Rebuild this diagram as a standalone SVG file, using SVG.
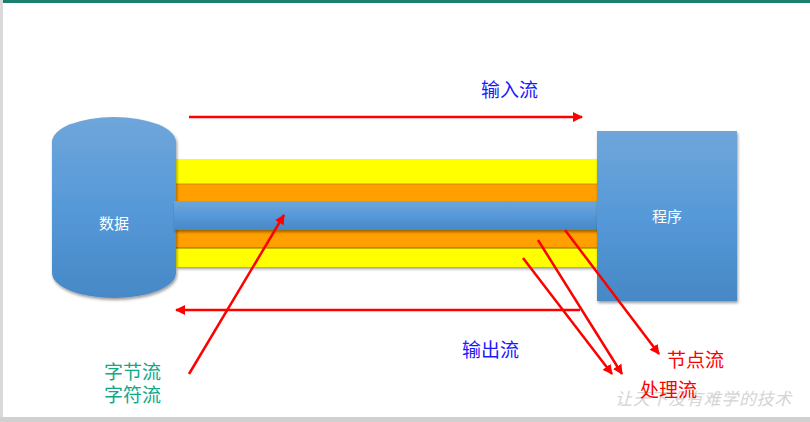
<svg xmlns="http://www.w3.org/2000/svg" width="810" height="422" viewBox="0 0 810 422">
<defs>
<linearGradient id="blue" x1="0" y1="0" x2="0" y2="1">
<stop offset="0" stop-color="#6fa6da"/>
<stop offset="0.5" stop-color="#5699d8"/>
<stop offset="1" stop-color="#4788c6"/>
</linearGradient>
<filter id="sh" x="-10%" y="-10%" width="125%" height="125%">
<feGaussianBlur in="SourceAlpha" stdDeviation="1.5"/>
<feOffset dx="1" dy="2" result="b"/>
<feComponentTransfer><feFuncA type="linear" slope="0.4"/></feComponentTransfer>
<feMerge><feMergeNode/><feMergeNode in="SourceGraphic"/></feMerge>
</filter>
<marker id="ah" viewBox="0 0 10 10" refX="9" refY="5" markerWidth="4" markerHeight="4" orient="auto" markerUnits="strokeWidth">
<path d="M0,0 L10,5 L0,10 Z" fill="#ff0000"/>
</marker>
</defs>
<style>
.cn{font-family:"Noto Sans CJK SC","Noto Sans",sans-serif;}
.lbl{font-size:15px;fill:#ffffff;text-anchor:middle;}
.big{font-size:19px;}
.arr{stroke:#ff0000;stroke-width:2.5;fill:none;marker-end:url(#ah);}
</style>
<rect x="0" y="0" width="810" height="422" fill="#ffffff"/>
<rect x="0" y="0" width="810" height="3" fill="#1a7f6c"/>
<rect x="0" y="0" width="3" height="422" fill="#d9d9d9"/>
<rect x="0" y="417" width="810" height="5" fill="#d0d0d0"/>

<g id="bands">
<rect x="176" y="159" width="421" height="108" fill="#ffff00" filter="url(#sh)"/>
<rect x="176" y="184" width="421" height="17" fill="#ffa000"/>
<rect x="176" y="230" width="421" height="18" fill="#ffa000"/>
<line x1="176" y1="248" x2="597" y2="248" stroke="#8a6a00" stroke-width="1"/>
<line x1="176" y1="184" x2="597" y2="184" stroke="#c08000" stroke-width="0.8"/>
</g>

<g id="data">
<path d="M52,142 A62,25 0 0,1 176,142 L176,273 A62,25 0 0,1 52,273 Z" fill="url(#blue)" filter="url(#sh)"/>
<text class="cn lbl" x="114" y="229">数据</text>
</g>

<g id="pipe">
<rect x="174" y="201" width="424" height="29" fill="url(#blue)" filter="url(#sh)"/>
</g>

<g id="program">
<rect x="597" y="131" width="140" height="170" fill="url(#blue)" filter="url(#sh)"/>
<text class="cn lbl" x="667" y="222">程序</text>
</g>

<g id="connectors">
<line class="arr" x1="189" y1="117" x2="582" y2="117"/>
<line class="arr" x1="580" y1="310" x2="176" y2="310"/>
<line class="arr" x1="189" y1="374" x2="284" y2="215"/>
<line class="arr" x1="523" y1="258" x2="612" y2="374"/>
<line class="arr" x1="538" y1="240" x2="622" y2="374"/>
<line class="arr" x1="565" y1="230" x2="659" y2="354"/>
</g>

<g id="labels">
<text class="cn big" x="481" y="97" fill="#1a1aff">输入流</text>
<text class="cn big" x="462" y="357" fill="#1a1aff">输出流</text>
<text class="cn big" x="104" y="379" fill="#10a888">字节流</text>
<text class="cn big" x="104" y="402" fill="#10a888">字符流</text>
<text x="615" y="405" font-family="Noto Sans CJK SC,sans-serif" font-size="17" font-style="italic" fill="#d4d4d4" letter-spacing="0.7">让天下没有难学的技术</text>
<text class="cn big" x="667" y="367" fill="#ff0000">节点流</text>
<text class="cn big" x="640" y="397" fill="#ff0000">处理流</text>
</g>
</svg>
